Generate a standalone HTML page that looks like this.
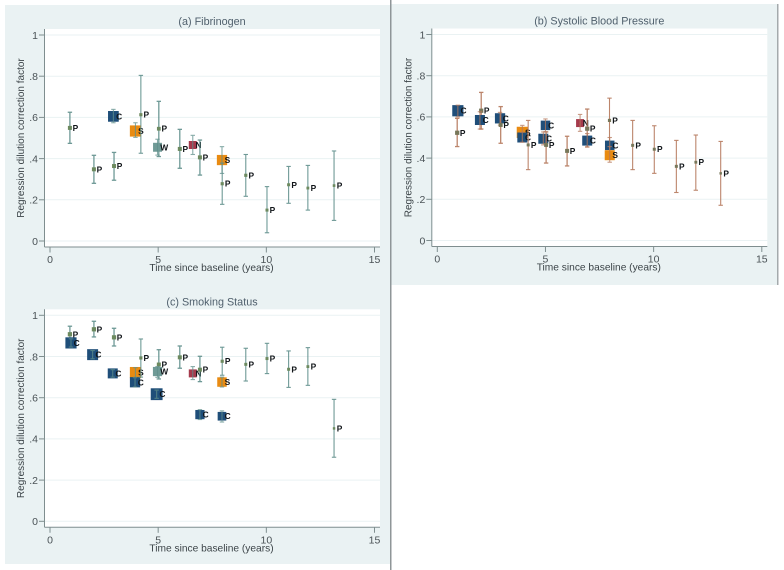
<!DOCTYPE html>
<html>
<head>
<meta charset="utf-8">
<title>Regression dilution correction factors</title>
<style>
html,body{margin:0;padding:0;background:#fff;width:784px;height:570px;overflow:hidden}
svg{display:block;font-family:"Liberation Sans",sans-serif;filter:blur(0.3px)}
</style>
</head>
<body>
<svg id="chart" width="784" height="570" viewBox="0 0 784 570" xmlns="http://www.w3.org/2000/svg"></svg>
<script>
var xTicks = [0, 5, 10, 15];
var yTicks = [0, 0.2, 0.4, 0.6, 0.8, 1];
var yTickLabels = ["0", ".2", ".4", ".6", ".8", "1"];

var fibTimes = [0.92, 2.03, 2.96, 2.93, 3.95, 4.2, 5.03, 4.97, 6.0, 6.6, 6.93, 7.95, 7.96, 9.05, 10.03, 11.03, 11.92, 13.13];
var fibEstimates = [0.549, 0.348, 0.364, 0.605, 0.534, 0.613, 0.545, 0.455, 0.447, 0.466, 0.406, 0.393, 0.278, 0.319, 0.15, 0.273, 0.257, 0.269];
var fibLower = [0.474, 0.28, 0.295, 0.574, 0.503, 0.426, 0.41, 0.417, 0.353, 0.42, 0.32, 0.328, 0.178, 0.217, 0.04, 0.183, 0.15, 0.1];
var fibUpper = [0.625, 0.416, 0.43, 0.639, 0.574, 0.804, 0.678, 0.494, 0.542, 0.513, 0.49, 0.458, 0.378, 0.42, 0.264, 0.362, 0.367, 0.437];
var fibLabels = ["P", "P", "P", "C", "S", "P", "P", "W", "P", "N", "P", "S", "P", "P", "P", "P", "P", "P"];
var fibWeights = [16, 16, 16, 115, 125, 10, 14, 80, 16, 64, 16, 105, 10, 10, 9, 9, 8, 7];

var sbpTimes = [0.95, 0.92, 2.03, 1.97, 2.9, 2.93, 3.93, 3.93, 4.2, 5.0, 4.9, 5.03, 6.0, 6.6, 6.93, 6.93, 7.96, 7.97, 7.97, 9.03, 10.03, 11.05, 11.95, 13.1];
var sbpEstimates = [0.63, 0.523, 0.63, 0.585, 0.593, 0.561, 0.525, 0.5, 0.464, 0.559, 0.494, 0.464, 0.435, 0.57, 0.543, 0.485, 0.583, 0.462, 0.414, 0.462, 0.443, 0.36, 0.38, 0.326];
var sbpLower = [0.6, 0.456, 0.541, 0.541, 0.56, 0.472, 0.488, 0.477, 0.344, 0.528, 0.464, 0.376, 0.362, 0.53, 0.454, 0.454, 0.481, 0.424, 0.38, 0.344, 0.326, 0.233, 0.244, 0.171];
var sbpUpper = [0.657, 0.593, 0.719, 0.625, 0.622, 0.65, 0.559, 0.525, 0.583, 0.59, 0.527, 0.527, 0.506, 0.612, 0.638, 0.519, 0.691, 0.5, 0.456, 0.583, 0.557, 0.486, 0.512, 0.481];
var sbpLabels = ["C", "P", "P", "C", "C", "P", "S", "C", "P", "C", "C", "P", "P", "N", "P", "C", "P", "C", "S", "P", "P", "P", "P", "P"];
var sbpWeights = [125, 18, 18, 100, 105, 16, 125, 100, 9, 90, 100, 16, 16, 64, 18, 100, 10, 90, 100, 9, 9, 9, 8, 6];

var smokeTimes = [0.92, 0.97, 2.03, 1.97, 2.96, 2.9, 3.95, 3.93, 4.2, 5.03, 4.97, 4.93, 6.0, 6.6, 6.93, 6.93, 7.96, 7.95, 7.95, 9.05, 10.03, 11.03, 11.92, 13.13];
var smokeEstimates = [0.908, 0.866, 0.932, 0.809, 0.893, 0.718, 0.722, 0.675, 0.793, 0.761, 0.727, 0.617, 0.796, 0.718, 0.736, 0.518, 0.777, 0.676, 0.51, 0.762, 0.79, 0.738, 0.751, 0.451];
var smokeLower = [0.869, 0.846, 0.895, 0.789, 0.851, 0.7, 0.699, 0.652, 0.7, 0.691, 0.699, 0.597, 0.743, 0.688, 0.678, 0.494, 0.709, 0.652, 0.482, 0.681, 0.717, 0.65, 0.66, 0.311];
var smokeUpper = [0.947, 0.886, 0.971, 0.829, 0.937, 0.736, 0.746, 0.697, 0.885, 0.833, 0.751, 0.637, 0.851, 0.751, 0.801, 0.542, 0.845, 0.7, 0.536, 0.84, 0.864, 0.827, 0.843, 0.592];
var smokeLabels = ["P", "C", "P", "C", "P", "C", "S", "C", "P", "P", "W", "C", "P", "N", "P", "C", "P", "S", "C", "P", "P", "P", "P", "P"];
var smokeWeights = [18, 125, 18, 120, 18, 100, 125, 105, 10, 16, 85, 140, 16, 64, 16, 85, 10, 90, 75, 9, 9, 9, 8, 6];

var NS = "http://www.w3.org/2000/svg";
var root = document.getElementById("chart");

function make(parent, tag, attrs, text) {
  var el = document.createElementNS(NS, tag);
  for (var k in attrs) { el.setAttribute(k, attrs[k]); }
  if (text !== undefined) { el.textContent = text; }
  parent.appendChild(el);
  return el;
}

var markerColors = { P: "#6d8a5f", C: "#1f4e79", S: "#e98b12", W: "#6f9a96", N: "#a53a4c" };

function drawPanel(cfg) {
  var g = make(root, "g", {});
  
  

  var x0 = cfg.left + 5.5, x15 = cfg.left + 330;
  var y0 = cfg.top + 212, y1 = cfg.top + 6;
  var sx = function (v) { return x0 + (x15 - x0) * v / 15; };
  var sy = function (v) { return y0 - (y0 - y1) * v; };

  var bg = make(g, "rect", { x: cfg.left, y: cfg.top, width: 335.5, height: 218, fill: "#ffffff" });
  
  

  var i;
  for (i = 0; i < yTicks.length; i++) {
    var gy = sy(yTicks[i]);
    var grid = make(g, "line", { x1: cfg.left, x2: cfg.left + 335.5, y1: gy, y2: gy, stroke: "#eaf2f3", "stroke-width": 1 });
    
    
    var ytick = make(g, "line", { x1: cfg.left - 5.5, x2: cfg.left, y1: gy, y2: gy, stroke: "#7f8e8f", "stroke-width": 1 });
    
    
    var ylab = make(g, "text", { x: cfg.left - 6.5, y: gy + 3.8, "text-anchor": "end", "font-size": 10.5, fill: "#4a5256" }, yTickLabels[i]);
    
    
  }
  for (i = 0; i < xTicks.length; i++) {
    var tx = sx(xTicks[i]);
    var xtick = make(g, "line", { x1: tx, x2: tx, y1: cfg.top + 218, y2: cfg.top + 223.5, stroke: "#7f8e8f", "stroke-width": 1 });
    
    
    var xlab = make(g, "text", { x: tx, y: cfg.top + 234, "text-anchor": "middle", "font-size": 10.5, fill: "#4a5256" }, String(xTicks[i]));
    
    
  }

  var yAxis = make(g, "line", { x1: cfg.left, x2: cfg.left, y1: cfg.top, y2: cfg.top + 218, stroke: "#7f8e8f", "stroke-width": 1 });
  
  
  var xAxis = make(g, "line", { x1: cfg.left, x2: cfg.left + 335.5, y1: cfg.top + 218, y2: cfg.top + 218, stroke: "#7f8e8f", "stroke-width": 1 });
  
  

  var title = make(g, "text", { x: cfg.left + 167.5, y: cfg.top - 4, "text-anchor": "middle", "font-size": 10.8, fill: "#4f5f6c" }, cfg.title);
  
  
  var xTitle = make(g, "text", { x: cfg.left + 167, y: cfg.top + 242, "text-anchor": "middle", "font-size": 10.2, fill: "#3c4448" }, "Time since baseline (years)");
  
  
  var yTitle = make(g, "text", { transform: "translate(" + (cfg.left - 20.5) + "," + (cfg.top + 109) + ") rotate(-90)", "text-anchor": "middle", "font-size": 10, fill: "#3c4448" }, "Regression dilution correction factor");
  
  

  for (i = 0; i < cfg.times.length; i++) {
    var px = sx(cfg.times[i]);
    var py = sy(cfg.estimates[i]);
    var lo = sy(cfg.lower[i]);
    var hi = sy(cfg.upper[i]);
    var side = Math.sqrt(cfg.weights[i]);
    var lab = cfg.labels[i];
    var isP = lab === "P";
    var pColor = cfg.pointColor || markerColors.P;

    var barGroup = document.createElementNS(NS, "g");
    
    
    barGroup.setAttribute('stroke', cfg.barColor);
    barGroup.setAttribute('stroke-width', side > 3.4 && isP ? 1.3 : 1.1);
    barGroup.setAttribute('opacity', isP ? 0.9 : 0.75);
    make(barGroup, "line", { x1: px, x2: px, y1: lo, y2: hi });
    make(barGroup, "line", { x1: px - 2.2, x2: px + 2.2, y1: lo, y2: lo });
    make(barGroup, "line", { x1: px - 2.2, x2: px + 2.2, y1: hi, y2: hi });

    var marker = document.createElementNS(NS, "rect");
    
    
    marker.setAttribute('x', px - side / 2);
    marker.setAttribute('y', py - side / 2);
    marker.setAttribute('width', side);
    marker.setAttribute('height', side);
    marker.setAttribute('fill', isP ? pColor : markerColors[lab]);

    if (isP) {
      g.appendChild(barGroup);
      g.appendChild(marker);
    } else {
      g.appendChild(marker);
      g.appendChild(barGroup);
    }

    var tag = make(g, "text", { x: px + 2.7, y: py + 3, "font-size": 8.4, "font-weight": "bold", fill: "#101418" }, lab);
    
    
  }
}

var bgLeft = make(root, "rect", { x: 5, y: 5, width: 385, height: 559, fill: "#eaf2f3" });


var bgRight = make(root, "rect", { x: 391, y: 4, width: 386, height: 281, fill: "#eaf2f3" });


var divider = make(root, "rect", { x: 390, y: 0, width: 1.5, height: 570, fill: "#8f9698" });


var rightEdge = make(root, "rect", { x: 777, y: 4, width: 1.5, height: 281, fill: "#a4aaac" });



drawPanel({ name: "panel-fibrinogen", title: "(a) Fibrinogen", left: 44.5, top: 29, barColor: "#5f8f8b",
  times: fibTimes, estimates: fibEstimates, lower: fibLower, upper: fibUpper, labels: fibLabels, weights: fibWeights });
drawPanel({ name: "panel-systolic-blood-pressure", title: "(b) Systolic Blood Pressure", left: 431.8, top: 28.5, barColor: "#b5785c", pointColor: "#77775a",
  times: sbpTimes, estimates: sbpEstimates, lower: sbpLower, upper: sbpUpper, labels: sbpLabels, weights: sbpWeights });
drawPanel({ name: "panel-smoking-status", title: "(c) Smoking Status", left: 44.5, top: 309.3, barColor: "#5f8f8b",
  times: smokeTimes, estimates: smokeEstimates, lower: smokeLower, upper: smokeUpper, labels: smokeLabels, weights: smokeWeights });
</script>
</body>
</html>
